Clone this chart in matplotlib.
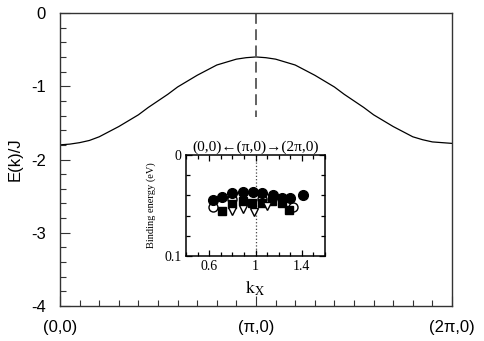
import numpy as np
import matplotlib
matplotlib.use('Agg')
import matplotlib.pyplot as plt
from matplotlib.ticker import MultipleLocator, FixedLocator

plt.rcParams['font.family'] = ['Liberation Sans', 'DejaVu Sans']
plt.rcParams['mathtext.fontset'] = 'stix'

# dispersion E(k)/J along (0,0) -> (pi,0) -> (2pi,0), sampled every pi/20
k_frac = np.arange(41) / 20.0
energy = [-1.80, -1.79, -1.77, -1.74, -1.69, -1.62, -1.55, -1.47, -1.39, -1.29,
          -1.20, -1.11, -1.01, -0.93, -0.85, -0.78, -0.71, -0.67, -0.63, -0.61,
          -0.60,
          -0.61, -0.63, -0.67, -0.71, -0.78, -0.85, -0.93, -1.01, -1.11, -1.20,
          -1.29, -1.39, -1.47, -1.55, -1.62, -1.69, -1.73, -1.76, -1.77, -1.78]
dash_bottom = -1.42

xtick_labels = ['(0,0)', '(\u03c0,0)', '(2\u03c0,0)']
ytick_vals = [0, -1, -2, -3, -4]

# inset (ARPES binding energies)
kx_fc = [0.63, 0.71, 0.80, 0.89, 0.98, 1.06, 1.15, 1.23, 1.30, 1.41]
be_fc = [0.045, 0.042, 0.038, 0.037, 0.037, 0.038, 0.040, 0.043, 0.043, 0.040]
kx_oc = [0.63, 0.80, 1.06, 1.32]
be_oc = [0.051, 0.044, 0.044, 0.051]
kx_sq = [0.71, 0.80, 0.89, 0.97, 1.06, 1.14, 1.23, 1.29]
be_sq = [0.055, 0.049, 0.046, 0.048, 0.048, 0.046, 0.048, 0.054]
kx_tr = [0.80, 0.89, 0.99, 1.10]
be_tr = [0.055, 0.053, 0.056, 0.050]

fig = plt.figure(figsize=(4.85, 3.41), dpi=100)
ax = fig.add_axes([60/485, 1 - 306/341, 392/485, 293/341])

k = k_frac * np.pi
ax.plot(k, energy, color='black', lw=0.9)
ax.plot([np.pi, np.pi], [0, dash_bottom], color='#555555', lw=1.3, dashes=(6, 3))

ax.set_xlim(0, 2 * np.pi)
ax.set_ylim(-4, 0)
ax.set_xticks([0, np.pi, 2 * np.pi])
ax.set_xticklabels(xtick_labels, fontsize=12)
ax.xaxis.set_minor_locator(MultipleLocator(np.pi / 10))
ax.set_yticks(ytick_vals)
ax.set_yticklabels([str(v) for v in ytick_vals], fontsize=12)
ax.yaxis.set_minor_locator(MultipleLocator(0.2))
ax.tick_params(which='both', direction='in', top=False, right=False, color='#333333')
ax.tick_params(which='major', length=7, width=0.8)
ax.tick_params(which='minor', length=4, width=0.8)
ax.tick_params(axis='x', which='major', pad=10)
ax.tick_params(axis='y', which='major', pad=10)
ax.set_ylabel('E(k)/J', fontsize=12, labelpad=6)
for s in ax.spines.values():
    s.set_color('#333333')
    s.set_linewidth(1.0)

# inset
serif = ['Liberation Serif', 'DejaVu Serif']
ins = fig.add_axes([186/485, 1 - 256/341, 139/485, 101/341])
ins.plot(kx_fc, be_fc, 'o', color='black', ms=7, zorder=4)
ins.plot(kx_oc, be_oc, 'o', mfc='white', mec='black', ms=6.5, mew=1, zorder=3)
ins.plot(kx_sq, be_sq, 's', color='black', ms=6, zorder=3)
ins.plot(kx_tr, be_tr, 'v', mfc='white', mec='black', ms=5.5, mew=1, zorder=3)
ins.axvline(1.0, color='#444444', lw=0.9, ls=':', zorder=1)
ins.set_xlim(0.4, 1.6)
ins.set_ylim(0.1, 0)
ins.xaxis.set_major_locator(FixedLocator([0.6, 1.0, 1.4]))
ins.xaxis.set_minor_locator(MultipleLocator(0.1))
ins.set_xticklabels(['0.6', '1', '1.4'], family=serif, fontsize=10)
ins.yaxis.set_major_locator(FixedLocator([0, 0.1]))
ins.yaxis.set_minor_locator(MultipleLocator(0.02))
ins.set_yticklabels(['0', '0.1'], family=serif, fontsize=10)
ins.tick_params(which='both', direction='in', top=True, right=True, width=0.9, pad=3)
ins.tick_params(which='major', length=4)
ins.tick_params(which='minor', length=3)
for s in ins.spines.values():
    s.set_linewidth(1.1)
ins.set_ylabel('Binding energy (eV)', family=serif, fontsize=7.5, labelpad=6)
ins.set_xlabel(r'$\rm k_{X}$', fontsize=13, labelpad=4)
ins.set_title('(0,0)\u2190(\u03c0,0)\u2192(2\u03c0,0)', family=serif, fontsize=11, pad=3)

fig.savefig('out.png', dpi=100)
